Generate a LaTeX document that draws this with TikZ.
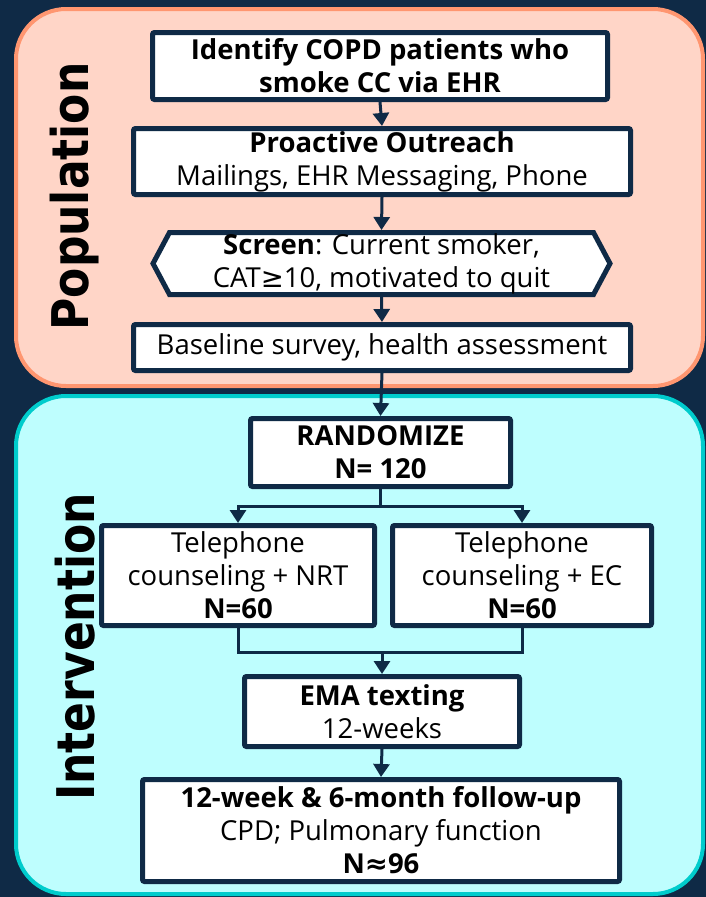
\documentclass[tikz,border=0pt]{standalone}
\usepackage{fontspec}
\setmainfont{Open Sans}
\newfontfamily\symf{DejaVu Sans}
\newfontfamily\labelf{DejaVu Sans}
\usetikzlibrary{arrows.meta,calc}

\definecolor{navy}{RGB}{15,42,70}
\definecolor{popfill}{RGB}{255,213,199}
\definecolor{popedge}{RGB}{255,150,112}
\definecolor{intfill}{RGB}{190,254,254}
\definecolor{intedge}{RGB}{0,204,204}

\tikzset{
  region/.style={line width=4pt, rounded corners=50pt},
  boxfont/.style={font=\fontsize{27.5}{33}\selectfont},
  stepbox/.style={draw=navy, fill=white, line width=5pt, rounded corners=2pt,
    align=center, inner sep=0pt, text=black, boxfont},
  flow/.style={draw=navy, line width=3pt,
    -{Triangle[width=16pt,length=13pt]}},
  link/.style={draw=navy, line width=3pt},
  sidelabel/.style={rotate=90, anchor=base, inner sep=0pt,
    font=\labelf\bfseries\fontsize{44}{44}\selectfont}
}

\begin{document}
\begin{tikzpicture}[x=1pt,y=-1pt]
  % canvas
  \fill[navy] (0,0) rectangle (706,897);
  \useasboundingbox (0,0) rectangle (706,897);

  % the two stage panels
  \draw[region, draw=popedge, fill=popfill] (16,9) rectangle (703,386);
  \draw[region, draw=intedge, fill=intfill] (16,396) rectangle (703,894);

  \node[sidelabel] (poplab) at (88,196.5) {\scalebox{1}[1.15]{Population}};
  \node[sidelabel] (intlab) at (94,647) {\scalebox{1}[1.18]{Intervention}};

  % population stage
  \node[stepbox, minimum width=455pt, minimum height=67pt] (idn) at (380,66)
    {\bfseries Identify COPD patients who\\\bfseries smoke CC via EHR};
  \node[stepbox, minimum width=497pt, minimum height=66pt] (pro) at (382,161.5)
    {\bfseries Proactive Outreach\\Mailings, EHR Messaging, Phone};
  \node[inner sep=0pt, outer sep=2.5pt, minimum width=424pt,
        minimum height=62pt] (scr) at (381.5,263.5) {};
  \node[stepbox, minimum width=497pt, minimum height=46pt] (base) at (382,347.5)
    {Baseline survey, health assessment};

  % intervention stage
  \node[stepbox, minimum width=260pt, minimum height=68pt] (rand) at (380.5,452.5)
    {\bfseries RANDOMIZE\\\bfseries N= 120};
  \node[stepbox, minimum width=273pt, minimum height=100pt] (nrt) at (238,575.5)
    {Telephone\\counseling + NRT\\\bfseries N=60};
  \node[stepbox, minimum width=259pt, minimum height=100pt] (ec) at (522,575.5)
    {Telephone\\counseling + EC\\\bfseries N=60};
  \node[stepbox, minimum width=275pt, minimum height=70pt] (ema) at (382,711.5)
    {\bfseries EMA texting\\12-weeks};
  \node[stepbox, minimum width=477pt, minimum height=102pt] (fu) at (381,830.5)
    {\bfseries 12-week \& 6-month follow-up\\CPD; Pulmonary function\\\bfseries N{\symf ≈}96};

  % connectors
  \draw[flow] (idn.south) -- (pro.north);
  \draw[flow] (pro.south) -- (scr.north);
  \draw[flow] (scr.south) -- (base.north);
  \draw[flow] (base.south) -- (rand.north);
  \coordinate (split) at ($(rand.south)+(0,17)$);
  \draw[link] (rand.south) -- (split);
  \draw[flow] (split) -| (nrt.north);
  \draw[flow] (split) -| (ec.north);
  \coordinate (merge) at ($(ema.north)+(0,-22)$);
  \draw[link] (nrt.south) |- (merge) -| (ec.south);
  \draw[flow] (merge) -- (ema.north);
  \draw[flow] (ema.south) -- (fu.north);

  % screening hexagon with its text
  \draw[navy, line width=5pt, fill=white, line join=miter]
    ($(scr.north west)+(2.5,2.5)$) -- ($(scr.north east)+(-2.5,2.5)$)
    -- ($(scr.east)+(14,0)$) -- ($(scr.south east)+(-2.5,-2.5)$)
    -- ($(scr.south west)+(2.5,-2.5)$) -- ($(scr.west)+(-14,0)$) -- cycle;
  \node[align=center, inner sep=0pt, boxfont] (scrtext) at (scr)
    {\textbf{Screen}: Current smoker,\\CAT{\symf ≥}10, motivated to quit};
\end{tikzpicture}
\end{document}
